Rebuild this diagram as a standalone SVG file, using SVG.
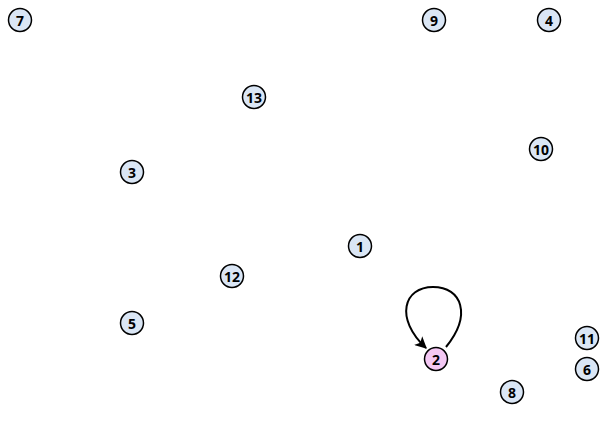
<svg xmlns="http://www.w3.org/2000/svg" width="600" height="434" viewBox="0 0 600 434">
<style>
.n circle{fill:#dae6f5;stroke:#000;stroke-width:1.5}
.n.p circle{fill:#f4c8f4}
.n text{font-family:"Open Sans","DejaVu Sans",sans-serif;font-size:14px;font-weight:bold;text-anchor:middle;dominant-baseline:central;fill:#000}
.e{fill:none;stroke:#000;stroke-width:2}
</style>
<defs>
<marker id="ah" viewBox="0 0 10 10" refX="9" refY="5" markerWidth="6" markerHeight="6" orient="auto" markerUnits="strokeWidth">
<path d="M0,0 L10,5 L0,10 L2.5,5 z" fill="#000"/>
</marker>
</defs>
<rect width="600" height="434" fill="#fff"/>
<g id="connectors">
<path class="e" d="M446,347 C472,315 462,287 433,287 C404,287 394,318 426,348" marker-end="url(#ah)"/>
</g>
<g id="n7" class="n"><circle cx="20" cy="20" r="11.5"/><text x="20" y="20">7</text></g>
<g id="n9" class="n"><circle cx="434" cy="20" r="11.5"/><text x="434" y="20">9</text></g>
<g id="n4" class="n"><circle cx="549" cy="20" r="11.5"/><text x="549" y="20">4</text></g>
<g id="n13" class="n"><circle cx="254" cy="97" r="11.5"/><text x="254" y="97">13</text></g>
<g id="n10" class="n"><circle cx="541" cy="149" r="11.5"/><text x="541" y="149">10</text></g>
<g id="n3" class="n"><circle cx="132" cy="172" r="11.5"/><text x="132" y="172">3</text></g>
<g id="n1" class="n"><circle cx="360" cy="246" r="11.5"/><text x="360" y="246">1</text></g>
<g id="n12" class="n"><circle cx="232" cy="276" r="11.5"/><text x="232" y="276">12</text></g>
<g id="n5" class="n"><circle cx="132" cy="323" r="11.5"/><text x="132" y="323">5</text></g>
<g id="n11" class="n"><circle cx="587" cy="338" r="11.5"/><text x="587" y="338">11</text></g>
<g id="n2" class="n p"><circle cx="436" cy="359" r="11.5"/><text x="436" y="359">2</text></g>
<g id="n6" class="n"><circle cx="587" cy="369" r="11.5"/><text x="587" y="369">6</text></g>
<g id="n8" class="n"><circle cx="512" cy="392" r="11.5"/><text x="512" y="392">8</text></g>
</svg>
